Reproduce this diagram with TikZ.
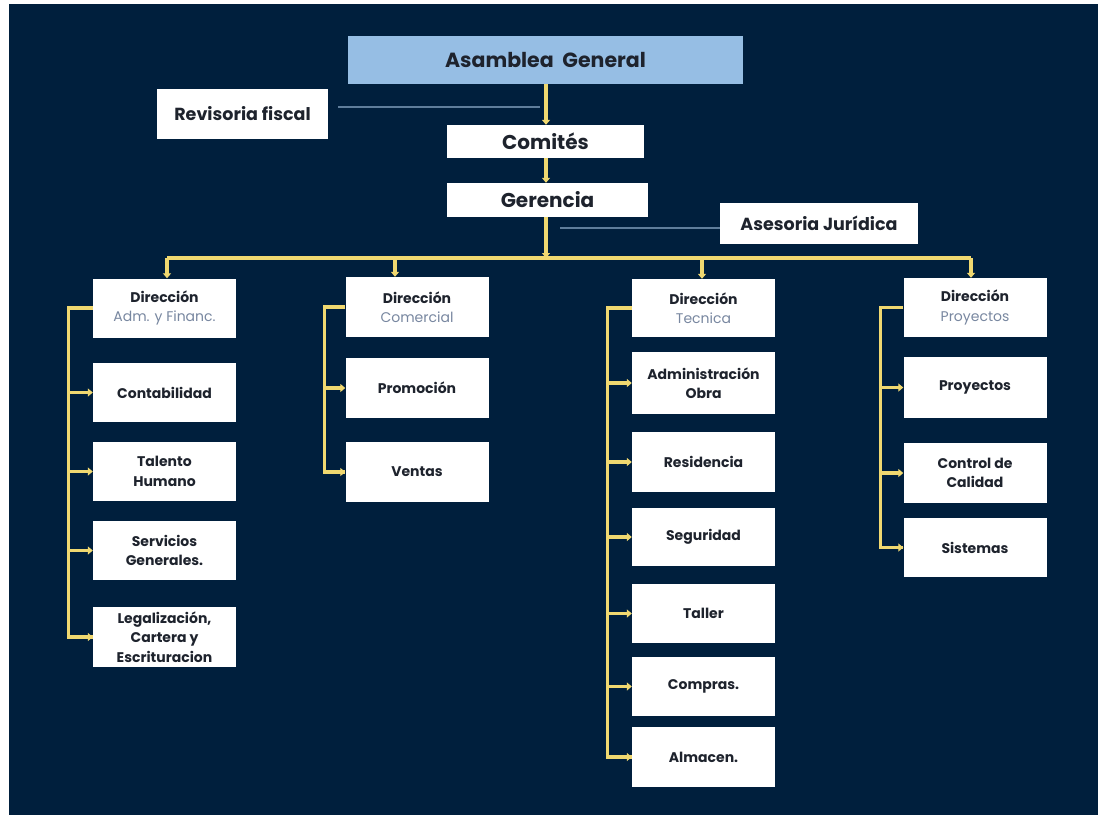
\documentclass[tikz,border=0pt]{standalone}
\usepackage{fontspec}
\setmainfont{Poppins}
\usetikzlibrary{arrows.meta}
\definecolor{navy}{RGB}{0,31,61}
\definecolor{yl}{RGB}{240,216,112}
\definecolor{lblue}{RGB}{150,190,228}
\definecolor{gline}{RGB}{95,125,155}
\definecolor{gtext}{RGB}{120,135,160}
\definecolor{dtext}{RGB}{30,35,45}
\tikzset{
  box/.style={draw=none,fill=white,inner sep=0pt,align=center,text=dtext,font=\bfseries\fontsize{14}{19.5}\selectfont},
  ylink/.style={draw=yl,line width=3.2pt},
  yarr/.style={ylink,-{Triangle[length=5pt,width=8pt]}},
  glink/.style={draw=gline,line width=1.6pt},
}
\newcommand{\sub}[1]{\\{\mdseries\color{gtext}#1}}
\begin{document}
\begin{tikzpicture}[x=1pt,y=-1pt]
\useasboundingbox (0,0) rectangle (1098,815);
\fill[white] (0,0) rectangle (1098,815);
\fill[navy] (9,4) rectangle (1098,815);
% top
\node[box,fill=lblue,minimum width=395pt,minimum height=48pt,font=\bfseries\fontsize{20.5}{22}\selectfont] (ag) at (545.5,60) {Asamblea~~General};
\node[box,minimum width=171pt,minimum height=50pt,font=\bfseries\fontsize{17.5}{20}\selectfont] (rf) at (242.5,114) {Revisoria fiscal};
\node[box,minimum width=197pt,minimum height=33pt,font=\bfseries\fontsize{20}{22}\selectfont] (co) at (545.5,141.5) {Comités};
\node[box,minimum width=201pt,minimum height=34pt,font=\bfseries\fontsize{20}{22}\selectfont] (ge) at (547.5,200) {Gerencia};
\node[box,minimum width=198pt,minimum height=41pt,font=\bfseries\fontsize{17.5}{20}\selectfont] (aj) at (819,223.5) {Asesoria Jurídica};
\coordinate (bar) at (546,258);
\coordinate (rfe) at (540,107);
\coordinate (aje) at (560,228);
\draw[glink] (rf.east |- rfe) ++(10,0) -- (rfe);
\draw[glink] (aje) -- (aj.west |- aje) ++(-8,0);
\draw[yarr] (546,84) -- (co.north -| 546,0);
\draw[yarr] (co.south -| 546,0) -- (ge.north -| 546,0) ;
% columns
\tikzset{c1/.style={box,minimum width=143pt,minimum height=59pt}}
% column 1
\node[c1] (a0) at (164.5,308) {Dirección\sub{Adm. y Financ.}};
\node[c1] (a1) at (164.5,392.5) {Contabilidad};
\node[c1] (a2) at (164.5,471.5) {Talento\\Humano};
\node[c1] (a3) at (164.5,550.5) {Servicios\\Generales.};
\node[c1,minimum height=60pt] (a4) at (164.5,637) {Legalización,\\Cartera y\\Escrituracion};
% column 2
\node[c1,minimum height=60pt] (b0) at (417,307) {Dirección\sub{Comercial}};
\node[c1,minimum height=60pt] (b1) at (417,388) {Promoción};
\node[c1,minimum height=60pt] (b2) at (417,472) {Ventas};
% column 3
\node[c1,minimum height=58pt] (t0) at (703.5,308) {Dirección\sub{Tecnica}};
\node[c1,minimum height=62pt] (t1) at (703.5,383) {Administración\\Obra};
\node[c1,minimum height=60pt] (t2) at (703.5,462) {Residencia};
\node[c1,minimum height=58pt] (t3) at (703.5,537) {Seguridad};
\node[c1,minimum height=59pt] (t4) at (703.5,613.5) {Taller};
\node[c1,minimum height=59pt] (t5) at (703.5,686.5) {Compras.};
\node[c1,minimum height=60pt] (t6) at (703.5,757) {Almacen.};
% column 4
\node[c1,minimum height=59pt] (p0) at (975,307.5) {Dirección\sub{Proyectos}};
\node[c1,minimum height=61pt] (p1) at (975,387.5) {Proyectos};
\node[c1,minimum height=60pt] (p2) at (975,473) {Control de\\Calidad};
\node[c1,minimum height=59pt] (p3) at (975,547.5) {Sistemas};
% bar
\draw[yarr] (ge.south -| 546,0) -- (bar);
\draw[ylink] (167,258) -- (971,258);
\draw[yarr] (167,258) -- (a0.north -| 167,0);
\draw[yarr] (395,258) -- (b0.north -| 395,0);
\draw[yarr] (702,258) -- (t0.north -| 702,0);
\draw[yarr] (971,258) -- (p0.north -| 971,0);
% brackets
\draw[ylink] (a0.west) -- ++(-24,0) coordinate (ka) |- (a4.west);
\foreach \n in {a1,a2,a3,a4} \draw[yarr] (ka |- \n.west) -- (\n.west);
\draw[ylink] (b0.west) -- ++(-21,0) coordinate (kb) |- (b2.west);
\foreach \n in {b1,b2} \draw[yarr] (kb |- \n.west) -- (\n.west);
\draw[ylink] (t0.west) -- ++(-24,0) coordinate (kt) |- (t6.west);
\foreach \n in {t1,t2,t3,t4,t5,t6} \draw[yarr] (kt |- \n.west) -- (\n.west);
\draw[ylink] (p0.west) -- ++(-23,0) coordinate (kp) |- (p3.west);
\foreach \n in {p1,p2,p3} \draw[yarr] (kp |- \n.west) -- (\n.west);
\end{tikzpicture}
\end{document}
